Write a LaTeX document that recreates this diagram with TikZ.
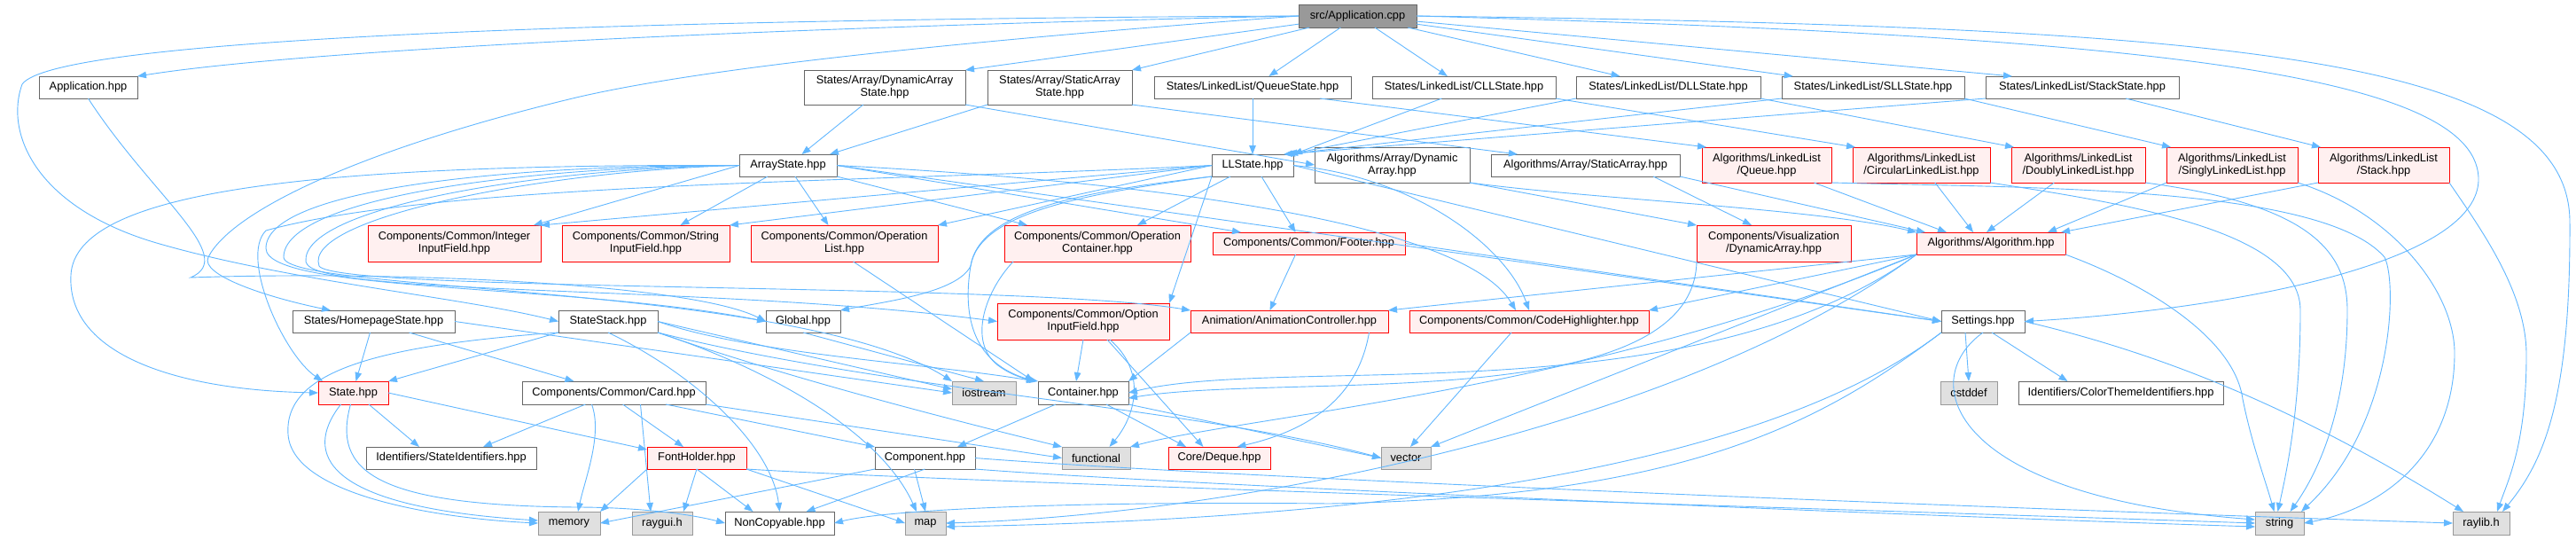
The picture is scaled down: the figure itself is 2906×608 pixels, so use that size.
\documentclass[tikz,border=0pt]{standalone}
\usepackage{fontspec}
\setmainfont{Liberation Sans}
\usetikzlibrary{arrows.meta}
\definecolor{edgec}{HTML}{63B8FF}
\definecolor{redfill}{HTML}{FFF0F0}
\definecolor{sysfill}{HTML}{E0E0E0}
\definecolor{sysline}{HTML}{999999}
\definecolor{rootfill}{HTML}{999999}
\definecolor{boxline}{HTML}{666666}
\tikzset{
  bx/.style={rectangle, inner sep=0pt, outer sep=0pt, line width=1pt, align=center, text=black, font=\fontsize{12.8}{14}\selectfont},
  wbox/.style={bx, draw=boxline, fill=white},
  rbox/.style={bx, draw=red, fill=redfill},
  sbox/.style={bx, draw=sysline, fill=sysfill},
  rootbox/.style={bx, draw=boxline, fill=rootfill},
  lnk/.style={draw=edgec, line width=0.9pt, -{Triangle[length=10pt,width=7.5pt]}},
}
\newcommand{\mkbox}[7]{\node[#2, minimum width={(#5-#3)*1pt}, minimum height={(#6-#4)*1pt}] (#1) at ({(#3+#5)/2},{(#4+#6)/2}) {#7};}
\begin{document}
\begin{tikzpicture}[x=1pt,y=-1pt]
\fill[white] (0,0) rectangle (2906,608);
\useasboundingbox (0,0) rectangle (2906,608);
% row 1
\mkbox{app}{rootbox}{1465}{5}{1598}{31}{src/Application.cpp}
% row 2
\mkbox{apphpp}{wbox}{44}{86}{155}{111}{Application.hpp}
\mkbox{dynst}{wbox}{907}{79}{1089}{118}{States/Array/DynamicArray\\State.hpp}
\mkbox{statst}{wbox}{1114}{79}{1277}{118}{States/Array/StaticArray\\State.hpp}
\mkbox{qst}{wbox}{1302}{86}{1524}{111}{States/LinkedList/QueueState.hpp}
\mkbox{cllst}{wbox}{1548}{86}{1755}{111}{States/LinkedList/CLLState.hpp}
\mkbox{dllst}{wbox}{1778}{86}{1986}{111}{States/LinkedList/DLLState.hpp}
\mkbox{sllst}{wbox}{2010}{86}{2216}{111}{States/LinkedList/SLLState.hpp}
\mkbox{stkst}{wbox}{2240}{86}{2458}{111}{States/LinkedList/StackState.hpp}
% row 3
\mkbox{arrst}{wbox}{834}{174}{944}{199}{ArrayState.hpp}
\mkbox{llst}{wbox}{1367}{174}{1459}{199}{LLState.hpp}
\mkbox{algdyn}{wbox}{1483}{166}{1658}{206}{Algorithms/Array/Dynamic\\Array.hpp}
\mkbox{algsta}{wbox}{1682}{174}{1895}{199}{Algorithms/Array/StaticArray.hpp}
\mkbox{llq}{rbox}{1920}{166}{2066}{206}{Algorithms/LinkedList\\/Queue.hpp}
\mkbox{llc}{rbox}{2090}{166}{2245}{206}{Algorithms/LinkedList\\/CircularLinkedList.hpp}
\mkbox{lld}{rbox}{2269}{166}{2420}{206}{Algorithms/LinkedList\\/DoublyLinkedList.hpp}
\mkbox{lls}{rbox}{2444}{166}{2592}{206}{Algorithms/LinkedList\\/SinglyLinkedList.hpp}
\mkbox{llk}{rbox}{2615}{166}{2763}{206}{Algorithms/LinkedList\\/Stack.hpp}
% row 4
\mkbox{intin}{rbox}{415}{254}{610}{295}{Components/Common/Integer\\InputField.hpp}
\mkbox{strin}{rbox}{634}{254}{823}{295}{Components/Common/String\\InputField.hpp}
\mkbox{oplist}{rbox}{847}{254}{1058}{295}{Components/Common/Operation\\List.hpp}
\mkbox{opcont}{rbox}{1133}{254}{1343}{295}{Components/Common/Operation\\Container.hpp}
\mkbox{footer}{rbox}{1368}{262}{1585}{287}{Components/Common/Footer.hpp}
\mkbox{visdyn}{rbox}{1914}{254}{2088}{295}{Components/Visualization\\/DynamicArray.hpp}
\mkbox{algo}{rbox}{2162}{262}{2330}{287}{Algorithms/Algorithm.hpp}
% row 5
\mkbox{home}{wbox}{330}{350}{513}{375}{States/HomepageState.hpp}
\mkbox{sstack}{wbox}{630}{350}{742}{375}{StateStack.hpp}
\mkbox{global}{wbox}{864}{350}{948}{375}{Global.hpp}
\mkbox{optin}{rbox}{1125}{342}{1319}{383}{Components/Common/Option\\InputField.hpp}
\mkbox{anim}{rbox}{1343}{350}{1566}{375}{Animation/AnimationController.hpp}
\mkbox{codehl}{rbox}{1590}{350}{1860}{375}{Components/Common/CodeHighlighter.hpp}
\mkbox{settings}{wbox}{2190}{350}{2284}{375}{Settings.hpp}
% row 6
\mkbox{state}{rbox}{359}{430}{438}{456}{State.hpp}
\mkbox{card}{wbox}{589}{430}{796}{456}{Components/Common/Card.hpp}
\mkbox{iostream}{sbox}{1074}{430}{1146}{456}{iostream}
\mkbox{container}{wbox}{1171}{430}{1273}{456}{Container.hpp}
\mkbox{cstddef}{sbox}{2189}{430}{2253}{456}{cstddef}
\mkbox{colorid}{wbox}{2277}{430}{2508}{456}{Identifiers/ColorThemeIdentifiers.hpp}
% row 7
\mkbox{stateid}{wbox}{413}{504}{605}{529}{Identifiers/StateIdentifiers.hpp}
\mkbox{font}{rbox}{730}{504}{842}{529}{FontHolder.hpp}
\mkbox{component}{wbox}{987}{504}{1100}{529}{Component.hpp}
\mkbox{functional}{sbox}{1198}{504}{1275}{529}{functional}
\mkbox{deque}{rbox}{1318}{504}{1433}{529}{Core/Deque.hpp}
\mkbox{vector}{sbox}{1558}{504}{1614}{529}{vector}
% row 8
\mkbox{memory}{sbox}{607}{577}{677}{603}{memory}
\mkbox{raygui}{sbox}{713}{577}{781}{603}{raygui.h}
\mkbox{noncopy}{wbox}{818}{577}{941}{603}{NonCopyable.hpp}
\mkbox{map}{sbox}{1021}{577}{1067}{603}{map}
\mkbox{string}{sbox}{2544}{577}{2599}{603}{string}
\mkbox{raylib}{sbox}{2767}{577}{2831}{603}{raylib.h}

% ---- Application.cpp
\draw[lnk] (app.west) .. controls (900,30) and (350,55) .. (apphpp.north east);
\draw[lnk] (app.west) .. controls (650,22) and (60,45) .. (25,95) .. controls (5,150) and (40,235) .. (180,275) .. controls (330,318) and (520,335) .. (sstack.west);
\draw[lnk] (app.west) .. controls (1100,45) and (800,75) .. (650,110) .. controls (400,170) and (260,240) .. (235,290) .. controls (225,310) and (300,335) .. ([xshift=43pt]home.north west);
\draw[lnk] (app) -- (dynst.north east);
\draw[lnk] (app) -- (statst.north east);
\draw[lnk] (app) -- (qst);
\draw[lnk] (app) -- (cllst);
\draw[lnk] (app) -- (dllst);
\draw[lnk] (app) -- (sllst);
\draw[lnk] (app) -- ([xshift=30pt]stkst.north west);
\draw[lnk] (app.east) .. controls (2400,40) and (2790,80) .. (2796,200) .. controls (2800,300) and (2500,350) .. (settings.east);
\draw[lnk] (app.east) .. controls (2500,30) and (2898,60) .. (2899,250) .. controls (2900,450) and (2870,520) .. ([xshift=-8pt]raylib.north east);
% ---- Application.hpp
\draw[lnk] (apphpp.south) .. controls (170,220) and (270,290) .. (215,313) .. controls (450,305) and (780,320) .. (global.west);
% ---- States
\draw[lnk] (dynst) -- (arrst);
\draw[lnk] (dynst.south east) -- (algdyn.west);
\draw[lnk] (statst.south west) -- ([xshift=-8pt]arrst.north east);
\draw[lnk] (statst.south east) -- ([xshift=30pt]algsta.north west);
\draw[lnk] (qst) -- (llst);
\draw[lnk] ([xshift=-35pt]qst.south east) -- ([xshift=5pt]llq.north west);
\draw[lnk] ([xshift=-25pt]cllst.south) -- (llst.north east);
\draw[lnk] (cllst.south east) -- ([xshift=3pt]llc.north west);
\draw[lnk] (dllst.south west) -- ([xshift=-5pt]llst.north east);
\draw[lnk] (dllst.south east) -- ([xshift=3pt]lld.north west);
\draw[lnk] (sllst.south west) -- ([xshift=-8pt]llst.north east);
\draw[lnk] (sllst.south east) -- ([xshift=5pt]lls.north west);
\draw[lnk] (stkst.south west) -- ([xshift=-11pt]llst.north east);
\draw[lnk] ([xshift=-60pt]stkst.south east) -- ([xshift=3pt]llk.north west);
% ---- ArrayState
\draw[lnk] (arrst.west) -- ([xshift=-8pt]intin.north east);
\draw[lnk] ([xshift=-23pt]arrst.south) -- ([xshift=39pt]strin.north);
\draw[lnk] ([xshift=8pt]arrst.south) -- ([xshift=-18pt]oplist.north);
\draw[lnk] (arrst.south east) -- ([xshift=26pt]opcont.north west);
\draw[lnk] (arrst.east) -- ([xshift=32pt]footer.north west);
\draw[lnk] (arrst.west) .. controls (350,185) and (85,215) .. (80,310) .. controls (75,400) and (200,440) .. (state.west);
\draw[lnk] (arrst.west) .. controls (560,186) and (300,215) .. (300,280) .. controls (300,330) and (650,320) .. (global.west);
\draw[lnk] (arrst.west) .. controls (580,188) and (320,225) .. (320,290) .. controls (320,330) and (900,320) .. (iostream.north west);
\draw[lnk] (arrst.west) .. controls (600,190) and (340,235) .. (345,295) .. controls (350,335) and (800,320) .. (optin.west);
\draw[lnk] (arrst.west) .. controls (620,192) and (340,245) .. (360,300) .. controls (380,330) and (1150,318) .. (anim.north west);
\draw[lnk] (arrst.east) .. controls (1300,205) and (1650,250) .. ([xshift=120pt]codehl.north west);
\draw[lnk] (arrst.east) -- (settings.west);
% ---- LLState
\draw[lnk] (llst.west) -- (intin.north east);
\draw[lnk] (llst.west) -- (strin.north east);
\draw[lnk] (llst.west) -- (oplist.north east);
\draw[lnk] ([xshift=-25pt]llst.south) -- ([xshift=-60pt]opcont.north east);
\draw[lnk] ([xshift=10pt]llst.south) -- ([xshift=-15pt]footer.north);
\draw[lnk] (llst.west) .. controls (1000,205) and (500,205) .. (300,260) .. controls (270,290) and (320,400) .. ([xshift=5pt]state.north west);
\draw[lnk] (llst.south west) .. controls (1230,215) and (1105,235) .. (1095,300) .. controls (1080,330) and (1000,340) .. (global.north east);
\draw[lnk] (llst.south west) .. controls (1230,218) and (1105,238) .. (1095,300) .. controls (1085,360) and (1100,410) .. ([xshift=-3pt]container.north west);
\draw[lnk] (llst.south west) -- (optin.north east);
\draw[lnk] (llst.east) .. controls (1600,200) and (1700,280) .. (codehl.north);
\draw[lnk] (llst.east) -- (settings.west);
% ---- Algorithms
\draw[lnk] (algdyn.south east) -- (visdyn.north west);
\draw[lnk] (algdyn.south east) .. controls (1800,225) and (2050,235) .. (algo.north west);
\draw[lnk] ([xshift=-30pt]algsta.south east) -- ([xshift=-25pt]visdyn.north);
\draw[lnk] (algsta.south east) -- ([xshift=10pt]algo.north west);
\draw[lnk] (llq) -- ([xshift=-50pt]algo.north);
\draw[lnk] (llc) -- ([xshift=-20pt]algo.north);
\draw[lnk] (lld) -- ([xshift=-5pt]algo.north);
\draw[lnk] (lls.south west) -- ([xshift=-20pt]algo.north east);
\draw[lnk] (llk.south west) -- ([xshift=-5pt]algo.north east);
\draw[lnk] (llq.south east) .. controls (2300,212) and (2620,210) .. (2690,290) .. controls (2705,320) and (2700,480) .. ([xshift=-3pt]string.north east);
\draw[lnk] (llc.south east) .. controls (2400,230) and (2595,260) .. (2595,350) .. controls (2595,460) and (2580,530) .. ([xshift=-2pt]string.north);
\draw[lnk] (lld.south east) .. controls (2600,230) and (2648,280) .. (2648,350) .. controls (2648,470) and (2610,540) .. ([xshift=12pt]string.north);
\draw[lnk] (lls.south east) .. controls (2700,240) and (2770,330) .. (2769,400) .. controls (2768,520) and (2680,575) .. (string.east);
\draw[lnk] (llk.south east) .. controls (2800,260) and (2850,330) .. (2850,400) .. controls (2850,500) and (2830,540) .. ([xshift=-14pt]raylib.north east);
\draw[lnk] (algo.south west) -- (anim.north east);
\draw[lnk] (algo.south west) -- (codehl.north east);
\draw[lnk] (algo.south west) .. controls (1910,470) and (1450,400) .. (container.east);
\draw[lnk] (algo.south west) -- (vector.north east);
\draw[lnk] (algo.south west) .. controls (1800,440) and (1400,470) .. (functional.north east);
\draw[lnk] (algo.south west) .. controls (1900,480) and (1400,580) .. (map.east);
\draw[lnk] (algo.south east) .. controls (2420,320) and (2520,380) .. (2530,450) .. controls (2540,500) and (2555,540) .. ([xshift=-6pt]string.north);
% ---- Components
\draw[lnk] ([xshift=10pt]oplist.south) -- ([xshift=-5pt]container.north west);
\draw[lnk] ([xshift=10pt]opcont.south west) .. controls (1110,330) and (1090,390) .. (1130,415) .. controls (1145,425) and (1160,428) .. (container.north west);
\draw[lnk] ([xshift=-15pt]footer.south) -- ([xshift=-22pt]anim.north);
\draw[lnk] (footer.east) -- (settings.west);
\draw[lnk] (visdyn.south west) .. controls (1910,470) and (1450,420) .. ([yshift=-6pt]container.east);
\draw[lnk] (optin.south) -- ([xshift=-8pt]container.north);
\draw[lnk] ([xshift=27pt]optin.south) -- ([xshift=-18pt]deque.north);
\draw[lnk] ([xshift=30pt]optin.south) .. controls (1295,420) and (1280,470) .. ([xshift=15pt]functional.north);
\draw[lnk] (anim.south west) -- (container.north east);
\draw[lnk] ([xshift=90pt]anim.south) .. controls (1535,430) and (1500,480) .. ([xshift=20pt]deque.north);
\draw[lnk] ([xshift=-20pt]codehl.south) -- ([xshift=5pt]vector.north);
% ---- Homepage / StateStack
\draw[lnk] ([xshift=-4pt]home.south) -- ([xshift=3pt]state.north);
\draw[lnk] ([xshift=40pt]home.south) -- ([xshift=-45pt]card.north);
\draw[lnk] (home.east) -- (iostream.west);
\draw[lnk] (sstack.south west) -- (state.north east);
\draw[lnk] (sstack.south west) .. controls (420,390) and (320,420) .. (325,490) .. controls (330,560) and (500,585) .. (memory.west);
\draw[lnk] (sstack.east) -- ([yshift=4pt]iostream.west);
\draw[lnk] (sstack.east) .. controls (850,400) and (1050,410) .. ([xshift=-3pt]container.north west);
\draw[lnk] (sstack.south east) .. controls (900,430) and (1100,480) .. (functional.north west);
\draw[lnk] (sstack.south east) .. controls (850,410) and (990,480) .. ([xshift=-10pt]map.north);
\draw[lnk] (sstack.south) .. controls (780,420) and (870,500) .. (noncopy.north);
\draw[lnk] (sstack.south east) .. controls (1000,440) and (1350,460) .. (vector.west);
\draw[lnk] (global.south) -- (iostream.north);
% ---- State / Card
\draw[lnk] ([xshift=-14pt]state.south) .. controls (350,500) and (340,570) .. ([yshift=3pt]memory.west);
\draw[lnk] ([xshift=-3pt]state.south) .. controls (375,530) and (420,570) .. (650,572) .. controls (720,572) and (780,580) .. (noncopy.west);
\draw[lnk] ([xshift=-22pt]state.south east) -- ([xshift=-36pt]stateid.north);
\draw[lnk] (state.east) -- ([yshift=-3pt]font.north west);
\draw[lnk] ([xshift=-32pt]card.south) -- ([xshift=-60pt]stateid.north east);
\draw[lnk] ([xshift=10pt]card.south) -- ([xshift=-15pt]font.north);
\draw[lnk] ([xshift=-45pt]card.south east) -- (component.north west);
\draw[lnk] ([xshift=-25pt]card.south) .. controls (680,490) and (660,540) .. ([xshift=10pt]memory.north);
\draw[lnk] ([xshift=30pt]card.south) -- ([xshift=-13pt]raygui.north);
\draw[lnk] (card.south east) -- (functional.west);
% ---- Container / Font / Component
\draw[lnk] ([xshift=20pt]container.south west) -- ([xshift=-20pt]component.north east);
\draw[lnk] ([xshift=-25pt]container.south east) -- ([xshift=20pt]deque.north west);
\draw[lnk] (container.south east) -- (vector.west);
\draw[lnk] (font.south west) -- (memory.north east);
\draw[lnk] (font.south) -- ([xshift=-10pt]raygui.north east);
\draw[lnk] (font.south) -- ([xshift=-30pt]noncopy.north);
\draw[lnk] (font.south east) -- (map.west);
\draw[lnk] (font.south east) .. controls (1100,545) and (2100,575) .. (string.west);
\draw[lnk] (component.south west) -- (memory.east);
\draw[lnk] (component.south) -- ([xshift=30pt]noncopy.north);
\draw[lnk] ([xshift=-12pt]component.south) -- (map.north);
\draw[lnk] (component.south east) .. controls (1300,545) and (2100,580) .. ([yshift=-4pt]string.west);
\draw[lnk] (component.east) .. controls (1400,540) and (2300,575) .. (raylib.west);
% ---- Settings
\draw[lnk] ([xshift=-20pt]settings.south) -- (cstddef.north);
\draw[lnk] ([xshift=10pt]settings.south) -- ([xshift=-60pt]colorid.north);
\draw[lnk] (settings.east) .. controls (2400,390) and (2560,440) .. ([xshift=12pt]raylib.north west);
\draw[lnk] (settings.south) .. controls (2160,430) and (2200,560) .. ([yshift=4pt]string.west);
\draw[lnk] (settings.south west) .. controls (2050,480) and (1900,560) .. (1500,568) .. controls (1200,565) and (1000,575) .. (noncopy.east);
\draw[lnk] (settings.south west) .. controls (2000,520) and (1600,585) .. ([yshift=-4pt]map.east);
\end{tikzpicture}
\end{document}
